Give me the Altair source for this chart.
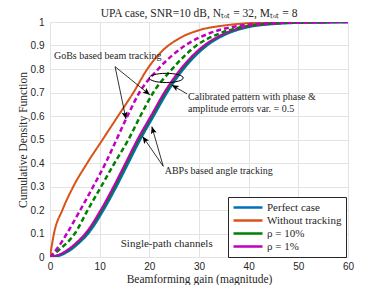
import math
import altair as alt
import pandas as pd

# ---------------- data ----------------
series_names = ["Perfect case", "Without tracking", "ρ = 10%", "ρ = 1%"]
series_colors = ["#0072BD", "#D95319", "#008000", "#C000C0"]

# Perfect case (blue)
x_perfect = [0, 2, 4, 6, 7.6, 10.7, 13.3, 15.7, 18.1, 20.8, 23.5, 26.8, 31.5, 35.5, 40, 45, 50, 60]
y_perfect = [0, 0.008, 0.03, 0.065, 0.1, 0.2, 0.3, 0.4, 0.5, 0.6, 0.7, 0.8, 0.9, 0.95, 0.98, 0.993, 0.998, 1]

# Without tracking (orange)
x_without = [0, 0.8, 2.5, 4.7, 7.5, 10.6, 13.7, 16.8, 19.6, 22.5, 26.0, 30.0, 35.0, 40.0, 48.0, 60]
y_without = [0, 0.1, 0.2, 0.3, 0.4, 0.5, 0.6, 0.7, 0.8, 0.875, 0.93, 0.965, 0.985, 0.995, 1, 1]

# rho = 10%, ABPs based angle tracking (green solid)
x_abp10 = [0, 1.8, 3.75, 5.75, 7.35, 10.45, 13.05, 15.45, 17.85, 20.55, 23.25, 26.55, 31.25, 35.25, 39.75, 44.75, 50, 60]
y_abp10 = [0, 0.008, 0.03, 0.065, 0.1, 0.2, 0.3, 0.4, 0.5, 0.6, 0.7, 0.8, 0.9, 0.95, 0.98, 0.993, 0.998, 1]

# rho = 1%, ABPs based angle tracking (magenta solid)
x_abp1 = [0, 1.6, 3.5, 5.5, 7.1, 10.2, 12.8, 15.2, 17.6, 20.3, 23.0, 26.3, 31.0, 35.0, 39.5, 44.5, 50, 60]
y_abp1 = [0, 0.008, 0.03, 0.065, 0.1, 0.2, 0.3, 0.4, 0.5, 0.6, 0.7, 0.8, 0.9, 0.95, 0.98, 0.993, 0.998, 1]

# rho = 10%, GoBs based beam tracking (green dashed)
x_gob10 = [0, 1.8, 5.0, 7.6, 10.3, 13.0, 15.8, 18.2, 20.8, 24.6, 29.5, 34.0, 39.0, 46.0, 60]
y_gob10 = [0, 0.03, 0.1, 0.2, 0.3, 0.4, 0.5, 0.6, 0.7, 0.8, 0.9, 0.95, 0.98, 0.995, 1]

# rho = 1%, GoBs based beam tracking (magenta dashed)
x_gob1 = [0, 1.6, 3.4, 6.1, 8.7, 11.2, 13.4, 15.6, 18.0, 21.8, 27.2, 31.9, 37.0, 45.0, 60]
y_gob1 = [0, 0.04, 0.1, 0.2, 0.3, 0.4, 0.5, 0.6, 0.7, 0.8, 0.9, 0.95, 0.98, 0.995, 1]

x_ticks = [0, 10, 20, 30, 40, 50, 60]
y_ticks = [0, 0.1, 0.2, 0.3, 0.4, 0.5, 0.6, 0.7, 0.8, 0.9, 1]

# annotations (data coordinates)
gob_text = "GoBs based beam tracking"
gob_text_pos = (0.8, 0.856)
gob_arrow_start = (13.1, 0.81)
gob_arrow_tips = [(15.3, 0.587), (20.1, 0.69)]

abp_text = "ABPs based angle tracking"
abp_text_pos = (23.1, 0.367)
abp_arrow_start = (22.8, 0.386)
abp_arrow_tips = [(20.5, 0.555), (18.65, 0.513)]

cal_text = ["Calibrated pattern with phase &", "amplitude errors var. = 0.5"]
cal_text_pos = [(27.8, 0.680), (27.8, 0.631)]
cal_arrow_start = (27.6, 0.694)
cal_arrow_tip = (24.5, 0.732)
ellipse_center = (23.4, 0.762)

channel_text = "Single-path channels"
channel_text_pos = (23.5, 0.057)

title_text = "UPA case, SNR=10 dB, Nₜₒₜ = 32, Mₜₒₜ = 8"

# ---------------- layout ----------------
W, H = 298, 235
SERIF = "Liberation Serif"
SANS = "Liberation Sans"

curves = [
    ("perfect", "Perfect case", x_perfect, y_perfect, [1, 0], 3.0),
    ("without", "Without tracking", x_without, y_without, [1, 0], 2.0),
    ("abp10", "ρ = 10%", x_abp10, y_abp10, [1, 0], 2.0),
    ("abp1", "ρ = 1%", x_abp1, y_abp1, [1, 0], 2.0),
    ("gob10", "ρ = 10%", x_gob10, y_gob10, [5, 3], 2.5),
    ("gob1", "ρ = 1%", x_gob1, y_gob1, [5, 3], 2.5),
]

rows = []
for cid, sname, xs, ys, _, _ in curves:
    for i, (xv, yv) in enumerate(zip(xs, ys)):
        rows.append({"curve": cid, "series": sname, "gain": xv, "cdf": yv, "i": i})
df = pd.DataFrame(rows)

xscale = alt.Scale(domain=[0, 60], nice=False, zero=False)
yscale = alt.Scale(domain=[0, 1], nice=False, zero=False)

xaxis = alt.Axis(values=x_ticks, title="Beamforming gain (magnitude)", grid=True,
                 gridColor="#E3E3E3", ticks=False, domain=False, labelFont=SANS,
                 labelFontSize=10, labelColor="#262626", labelPadding=4,
                 titleFont=SERIF, titleFontSize=11.5, titleFontWeight="normal",
                 titleColor="#262626", titleX=W / 2, titleY=22, titleBaseline="middle",
                 labelFlush=False)
yaxis = alt.Axis(values=y_ticks, title="Cumulative Density Function", grid=True,
                 gridColor="#E3E3E3", ticks=False, domain=False, labelFont=SANS,
                 labelFontSize=10, labelColor="#262626", labelPadding=6,
                 titleFont=SERIF, titleFontSize=11.5, titleFontWeight="normal",
                 titleColor="#262626", titleX=-27, titleY=H / 2, titleAngle=270,
                 titleBaseline="middle", titleAlign="center", labelFlush=False,
                 format="~g")

legend = alt.Legend(title=None, orient="none", legendX=178, legendY=175,
                    symbolType="stroke", symbolSize=841, symbolStrokeWidth=2.5,
                    clipHeight=13, labelFont=SERIF, labelFontSize=11,
                    labelColor="#262626", strokeColor="#262626", fillColor="white",
                    padding=4, rowPadding=0, labelOffset=3, labelLimit=200,
                    cornerRadius=0)

color = alt.Color("series:N", scale=alt.Scale(domain=series_names, range=series_colors),
                  legend=legend)


def X(field):
    return alt.X(field, scale=xscale, axis=xaxis)


def Y(field):
    return alt.Y(field, scale=yscale, axis=yaxis)


layers = []
for cid, sname, xs, ys, dash, sw in curves:
    layer = alt.Chart(df).transform_filter(alt.datum.curve == cid).mark_line(
        interpolate="monotone", strokeWidth=sw, strokeDash=dash, clip=True
    ).encode(
        x=X("gain:Q"),
        y=Y("cdf:Q"),
        color=color,
        order="i:Q",
    )
    layers.append(layer)

# ---------------- annotations ----------------
px_x = W / 60.0
px_y = H / 1.0


def screen_angle(start, tip):
    dx = (tip[0] - start[0]) * px_x
    dy = -(tip[1] - start[1]) * px_y
    ang = math.degrees(math.atan2(dx, -dy))
    return ang % 360


arrows = []
for tip in gob_arrow_tips:
    arrows.append({"x0": gob_arrow_start[0], "y0": gob_arrow_start[1], "x1": tip[0], "y1": tip[1],
                   "ang": screen_angle(gob_arrow_start, tip)})
for tip in abp_arrow_tips:
    arrows.append({"x0": abp_arrow_start[0], "y0": abp_arrow_start[1], "x1": tip[0], "y1": tip[1],
                   "ang": screen_angle(abp_arrow_start, tip)})
arrows.append({"x0": cal_arrow_start[0], "y0": cal_arrow_start[1], "x1": cal_arrow_tip[0],
               "y1": cal_arrow_tip[1], "ang": screen_angle(cal_arrow_start, cal_arrow_tip)})
adf = pd.DataFrame(arrows)

shafts = alt.Chart(adf).mark_rule(color="black", strokeWidth=0.8).encode(
    x=X("x0:Q"), y=Y("y0:Q"), x2="x1:Q", y2="y1:Q")
heads = alt.Chart(adf).mark_point(shape="M0,0L-0.42,1L0,0.8L0.42,1Z", filled=True,
                                  color="black", opacity=1, size=200).encode(
    x=X("x1:Q"), y=Y("y1:Q"),
    angle=alt.Angle("ang:Q", scale=None))

edf = pd.DataFrame([{"x": ellipse_center[0], "y": ellipse_center[1]}])
ellipse = alt.Chart(edf).mark_point(shape="M-1,0A1,0.27,0,1,0,1,0A1,0.27,0,1,0,-1,0Z",
                                    filled=False, color="black", strokeWidth=1,
                                    size=1156, opacity=1).encode(
    x=X("x:Q"), y=Y("y:Q"))

tdf = pd.DataFrame([
    {"x": gob_text_pos[0], "y": gob_text_pos[1], "t": gob_text},
    {"x": abp_text_pos[0], "y": abp_text_pos[1], "t": abp_text},
    {"x": cal_text_pos[0][0], "y": cal_text_pos[0][1], "t": cal_text[0]},
    {"x": cal_text_pos[1][0], "y": cal_text_pos[1][1], "t": cal_text[1]},
])
texts = alt.Chart(tdf).mark_text(align="left", baseline="middle", font=SERIF,
                                 fontSize=10, color="#262626").encode(
    x=X("x:Q"), y=Y("y:Q"), text="t:N")

cdf_txt = pd.DataFrame([{"x": channel_text_pos[0], "y": channel_text_pos[1], "t": channel_text}])
chan = alt.Chart(cdf_txt).mark_text(align="center", baseline="middle", font=SERIF,
                                    fontSize=11, color="#262626").encode(
    x=X("x:Q"), y=Y("y:Q"), text="t:N")

ttl_df = pd.DataFrame([{"t": title_text}])
ttl = alt.Chart(ttl_df).mark_text(align="center", baseline="middle", font=SERIF,
                                  fontSize=11.5, color="#262626").encode(
    x=alt.value(W / 2), y=alt.value(-8.5), text="t:N")

chart = alt.layer(*layers, shafts, heads, ellipse, texts, chan, ttl).properties(
    width=W, height=H,
    autosize=alt.AutoSizeParams(type="none"),
    padding={"left": 42, "top": 14, "right": 25, "bottom": 28},
).configure_view(stroke="#262626", strokeWidth=1).configure(background="white")

chart.save("out.html", embed_options={"renderer": "svg", "actions": False})
